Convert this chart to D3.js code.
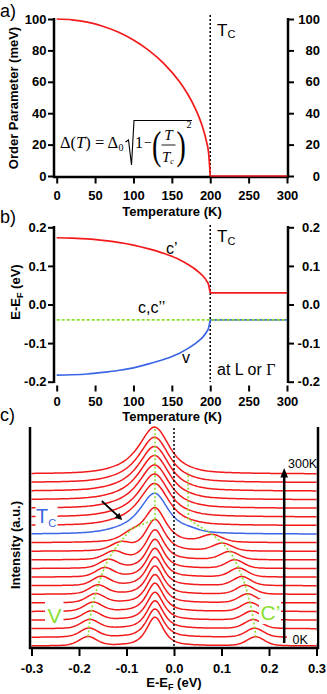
<!DOCTYPE html>
<html>
<head>
<meta charset="utf-8">
<script src="https://cdn.jsdelivr.net/npm/d3@7"></script>
<style>
  body { margin: 0; background: #fff; }
  svg { display: block; }
</style>
</head>
<body>
<script>
// ---- data ----
const Tc = 200;
const tempTicks = [0, 50, 100, 150, 200, 250, 300];
const gapTicks = [0, 20, 40, 60, 80, 100];
const bandTicks = [-0.2, -0.1, 0.0, 0.1, 0.2];
const energyTicks = [-0.3, -0.2, -0.1, 0.0, 0.1, 0.2, 0.3];

// panel a: order parameter (meV)
const gapTemp = [0, 20, 40, 60, 80, 100, 120, 140, 160, 170, 180, 185, 190, 195, 198, 200];
const gapValue = [100, 99.5, 98.0, 95.4, 91.7, 86.6, 80.0, 71.4, 60.0, 52.7, 43.6, 38.0, 31.2, 22.2, 14.1, 0];
const normalTemp = [200, 300];
const normalGap = [0, 0];

// panel b: band energies (eV)
const bandTemp = [0, 20, 40, 60, 80, 100, 120, 140, 160, 170, 180, 185, 190, 195, 198, 200];
const cPrimeBand = [0.173, 0.172, 0.170, 0.166, 0.161, 0.154, 0.144, 0.132, 0.116, 0.105, 0.092, 0.084, 0.075, 0.062, 0.050, 0.030];
const vBand = [-0.183, -0.182, -0.180, -0.176, -0.171, -0.164, -0.154, -0.142, -0.126, -0.115, -0.102, -0.094, -0.085, -0.072, -0.060, -0.040];
const cPrimeNormal = [0.03, 0.03];
const vNormal = [-0.04, -0.04];
const cBandTemp = [0, 300];
const cBand = [-0.04, -0.04];

// panel c: spectra, index 0 = 0K (bottom) ... 20 = 300K (top)
const specTemp = [0, 15, 30, 45, 60, 75, 90, 105, 120, 135, 150, 165, 180, 195, 210, 225, 240, 255, 270, 285, 300];
const tcIndex = 13;
const mainCenter = -0.04;
const mainAmp = [3.35, 3.3, 3.25, 3.25, 3.3, 3.3, 3.3, 3.35, 3.35, 3.4, 3.5, 3.7, 4.0, 4.45, 4.6, 4.7, 4.75, 4.85, 4.9, 4.97, 5.15];
const mainWidth = [0.021, 0.021, 0.021, 0.021, 0.021, 0.021, 0.021, 0.021, 0.021, 0.021, 0.022, 0.024, 0.027, 0.034, 0.035, 0.035, 0.036, 0.036, 0.036, 0.036, 0.036];
const mainShape = [0.7, 0.7, 0.7, 0.7, 0.7, 0.7, 0.7, 0.7, 0.7, 0.7, 0.7, 0.7, 0.7, 0.6, 0.6, 0.6, 0.6, 0.6, 0.6, 0.6, 0.6];
const vPeak = [-0.181, -0.179, -0.177, -0.174, -0.170, -0.165, -0.160, -0.153, -0.146, -0.138, -0.127, -0.112, -0.090, -0.09, -0.09, -0.09, -0.09, -0.09, -0.09, -0.09, -0.09];
const vAmp = [1.05, 1.05, 1.05, 1.05, 1.05, 1.05, 1.05, 1.05, 1.05, 1.0, 0.95, 0.9, 0.85, 0.6, 0.6, 0.6, 0.6, 0.6, 0.6, 0.6, 0.6];
const vWidth = [0.022, 0.022, 0.022, 0.022, 0.022, 0.022, 0.022, 0.022, 0.022, 0.022, 0.023, 0.024, 0.025, 0.05, 0.05, 0.05, 0.05, 0.05, 0.05, 0.05, 0.05];
const cPeak = [0.172, 0.170, 0.167, 0.164, 0.160, 0.155, 0.150, 0.143, 0.136, 0.128, 0.117, 0.102, 0.080, 0.03, 0.03, 0.03, 0.03, 0.03, 0.03, 0.03, 0.03];
const cAmp = [1.05, 1.05, 1.05, 1.05, 1.05, 1.05, 1.05, 1.05, 1.05, 1.0, 0.95, 0.9, 0.85, 0.35, 0.15, 0.15, 0.15, 0.15, 0.15, 0.15, 0.15];
const cWidth = [0.022, 0.022, 0.022, 0.022, 0.022, 0.022, 0.022, 0.022, 0.022, 0.022, 0.023, 0.024, 0.025, 0.025, 0.025, 0.025, 0.025, 0.025, 0.025, 0.025, 0.025];

// ---- setup ----
const FONT = "'Liberation Sans', Arial, sans-serif";
const SERIF = "'Liberation Serif', 'Times New Roman', serif";
const RED = "#f21a1a";
const BLUE = "#3b66e4";
const GREEN = "#8ae030";

const svg = d3.select("body").append("svg")
  .attr("width", 327)
  .attr("height", 694)
  .attr("font-family", FONT);

const seg = (x1, y1, x2, y2, w, dash) => {
  const l = svg.append("line")
    .attr("x1", x1).attr("y1", y1).attr("x2", x2).attr("y2", y2)
    .attr("stroke", "#000").attr("stroke-width", w);
  if (dash) l.attr("stroke-dasharray", dash);
  return l;
};

const styleAxis = (g) => {
  g.select(".domain").remove();
  g.attr("font-family", FONT).attr("font-size", 13).attr("font-weight", "bold");
  g.selectAll(".tick line").attr("stroke-width", 2);
};

const label = (x, y, txt, size, opts = {}) => {
  const t = svg.append("text")
    .attr("x", x).attr("y", y)
    .attr("font-size", size)
    .attr("fill", opts.fill || "#000")
    .attr("font-weight", opts.bold ? "bold" : "normal")
    .attr("text-anchor", opts.anchor || "start")
    .text(txt);
  if (opts.family) t.attr("font-family", opts.family);
  if (opts.rotate) t.attr("transform", "rotate(-90," + x + "," + y + ")");
  return t;
};

// T with small C
const tcLabel = (x, y, bigSize, smallSize, drop, fill) => {
  const t = svg.append("text").attr("x", x).attr("y", y).attr("fill", fill || "#000");
  t.append("tspan").attr("font-size", bigSize).text("T");
  t.append("tspan").attr("font-size", smallSize).attr("dy", drop).text("C");
};

// ============ Panel a ============
const xA = d3.scaleLinear().domain([0, 300]).range([56.7, 287]);
const yA = d3.scaleLinear().domain([0, 100]).range([176, 19]);

seg(54, 18, 54, 177.5, 2.5);
seg(288, 18, 288, 177.5, 2.5);
seg(53, 177, 289, 177, 2.5);

svg.append("g").attr("transform", "translate(54,0)")
  .call(d3.axisLeft(yA).tickValues(gapTicks).tickSize(6).tickPadding(1.5))
  .call(styleAxis);
svg.append("g").attr("transform", "translate(288,0)")
  .call(d3.axisRight(yA).tickValues(gapTicks).tickSize(6))
  .call(styleAxis)
  .call((g) => g.selectAll("text").attr("text-anchor", "end").attr("x", 32));
svg.append("g").attr("transform", "translate(0,177)")
  .call(d3.axisBottom(xA).tickValues(tempTicks).tickSize(6.5).tickPadding(7.5))
  .call(styleAxis);

seg(xA(Tc), 15, xA(Tc), 176, 1.5, "2,2");

const lineA = d3.line().x((d) => xA(d[0])).y((d) => yA(d[1]));
svg.append("path")
  .attr("d", lineA.curve(d3.curveMonotoneX)(gapTemp.map((t, i) => [t, gapValue[i]])))
  .attr("fill", "none").attr("stroke", RED).attr("stroke-width", 1.7);
svg.append("path")
  .attr("d", d3.line().x((d) => xA(d[0])).y((d) => yA(d[1]))(normalTemp.map((t, i) => [t, normalGap[i]])))
  .attr("fill", "none").attr("stroke", RED).attr("stroke-width", 1.7);

label(0, 17, "a)", 18);
label(18, 98, "Order Parameter (meV)", 13, { bold: true, anchor: "middle", rotate: true });
label(172, 215.5, "Temperature (K)", 13, { bold: true, anchor: "middle" });
tcLabel(217, 35.5, 17, 11, 2.5);

// formula
const f = svg.append("g").attr("font-family", SERIF).attr("fill", "#000");
const fText = f.append("text").attr("x", 60).attr("y", 147.5).attr("font-size", 16.5);
fText.append("tspan").text("\u0394(");
fText.append("tspan").attr("font-style", "italic").text("T");
fText.append("tspan").text(") = \u0394");
f.append("text").attr("x", 118.5).attr("y", 150.5).attr("font-size", 10).text("0");
f.append("path").attr("d", "M125.5,142 L128.5,140 L131.5,165 L134,120.5 L192,120.5")
  .attr("fill", "none").attr("stroke", "#000").attr("stroke-width", 1.1);
f.append("text").attr("x", 135).attr("y", 147.5).attr("font-size", 16).text("1");
f.append("text").attr("x", 144).attr("y", 147).attr("font-size", 14).text("\u2212");
f.append("text").attr("font-size", 28)
  .attr("transform", "translate(152,159) scale(1,1.45)").text("(");
f.append("text").attr("x", 168.5).attr("y", 140).attr("font-size", 15)
  .attr("font-style", "italic").attr("text-anchor", "middle").text("T");
f.append("line").attr("x1", 161.5).attr("x2", 175.5).attr("y1", 145).attr("y2", 145)
  .attr("stroke", "#000").attr("stroke-width", 0.9);
const tcF = f.append("text").attr("x", 162).attr("y", 162).attr("font-size", 15).attr("font-style", "italic");
tcF.append("tspan").text("T");
tcF.append("tspan").attr("font-size", 8).attr("dy", 2).text("c");
f.append("text").attr("font-size", 28)
  .attr("transform", "translate(176.5,159) scale(1,1.45)").text(")");
f.append("text").attr("x", 186.5).attr("y", 128).attr("font-size", 10).text("2");

// ============ Panel b ============
const xB = d3.scaleLinear().domain([0, 300]).range([56.7, 287]);
const yB = d3.scaleLinear().domain([-0.2, 0.2]).range([381.7, 227.3]);

seg(54, 226, 54, 383, 2.5);
seg(288, 226, 288, 383, 2.5);

svg.append("g").attr("transform", "translate(54,0)")
  .call(d3.axisLeft(yB).tickValues(bandTicks).tickSize(6).tickPadding(1.5).tickFormat((d) => d.toFixed(1)))
  .call(styleAxis);
svg.append("g").attr("transform", "translate(288,0)")
  .call(d3.axisRight(yB).tickValues(bandTicks).tickSize(6).tickFormat((d) => d.toFixed(1)))
  .call(styleAxis)
  .call((g) => g.selectAll("text").attr("text-anchor", "end").attr("x", 32));
svg.append("g").attr("transform", "translate(0,385.5)")
  .call(d3.axisBottom(xB).tickValues(tempTicks).tickSize(6).tickPadding(5))
  .call(styleAxis);

seg(xB(Tc), 225, xB(Tc), 382, 1.5, "2,2");

const lineB = d3.line().x((d) => xB(d[0])).y((d) => yB(d[1]));
const smoothB = d3.line().x((d) => xB(d[0])).y((d) => yB(d[1])).curve(d3.curveMonotoneX);
svg.append("path").attr("d", smoothB(bandTemp.map((t, i) => [t, cPrimeBand[i]])))
  .attr("fill", "none").attr("stroke", RED).attr("stroke-width", 1.7);
svg.append("path").attr("d", lineB(normalTemp.map((t, i) => [t, cPrimeNormal[i]])))
  .attr("fill", "none").attr("stroke", RED).attr("stroke-width", 1.7);
svg.append("path").attr("d", smoothB(bandTemp.map((t, i) => [t, vBand[i]])))
  .attr("fill", "none").attr("stroke", BLUE).attr("stroke-width", 1.7);
svg.append("path").attr("d", lineB(normalTemp.map((t, i) => [t, vNormal[i]])))
  .attr("fill", "none").attr("stroke", BLUE).attr("stroke-width", 1.7);
svg.append("path").attr("d", lineB(cBandTemp.map((t, i) => [t, cBand[i]])))
  .attr("fill", "none").attr("stroke", GREEN).attr("stroke-width", 1.7)
  .attr("stroke-dasharray", "3,2");

label(0, 223, "b)", 18);
const yLabB = svg.append("text").attr("font-weight", "bold").attr("font-size", 13)
  .attr("text-anchor", "middle")
  .attr("transform", "translate(19.5,292) rotate(-90)");
yLabB.append("tspan").text("E-E");
yLabB.append("tspan").attr("font-size", 9).attr("dy", 3).text("F");
yLabB.append("tspan").attr("dy", -3).text(" (eV)");
label(172, 421, "Temperature (K)", 13, { bold: true, anchor: "middle" });
tcLabel(217, 242, 17, 11, 2.5);
label(166, 254, "c\u2019", 16);
label(138, 313, "c,c\u2019\u2019", 16);
label(182, 363, "v", 16);
const atL = svg.append("text").attr("x", 217).attr("y", 375).attr("font-size", 16);
atL.append("tspan").text("at L or ");
atL.append("tspan").attr("font-family", SERIF).text("\u0393");

// ============ Panel c ============
const xC = d3.scaleLinear().domain([-0.3, 0.3]).range([31.5, 316.5]);
const yC = d3.scaleLinear().domain([0, 20]).range([646, 474]);

const pv = (e, center, hw, eta) => {
  const z = (e - center) / hw;
  return eta / (1 + z * z) + (1 - eta) * Math.exp(-Math.LN2 * z * z);
};
const spectrum = (i, e) =>
  mainAmp[i] * pv(e, mainCenter, mainWidth[i], mainShape[i]) +
  vAmp[i] * pv(e, vPeak[i], vWidth[i], 0.3) +
  cAmp[i] * pv(e, cPeak[i], cWidth[i], 0.3);

const grid = d3.range(-0.3, 0.3001, 0.003);
const lineC = d3.line().x((d) => xC(d[0])).y((d) => yC(d[1]));

const curves = svg.append("g").attr("fill", "none").attr("stroke-width", 1.5);
specTemp.forEach((t, i) => {
  if (i === tcIndex) return;
  curves.append("path")
    .attr("d", lineC(grid.map((e) => [e, i + spectrum(i, e)])))
    .attr("stroke", RED);
});
curves.append("path")
  .attr("d", lineC(grid.map((e) => [e, tcIndex + spectrum(tcIndex, e)])))
  .attr("stroke", BLUE);

// frame
seg(30, 427, 30, 649, 2.5);
seg(318, 427, 318, 649, 2.5);
seg(29, 648, 319, 648, 2.5);
svg.append("g").attr("transform", "translate(0,648)")
  .call(d3.axisBottom(xC).tickValues(energyTicks).tickSize(8).tickPadding(7.3).tickFormat((d) => d.toFixed(1)))
  .call(styleAxis);

seg(xC(0), 428, xC(0), 647, 1.5, "2,2");

// green dotted peak trajectories
const junction = [mainCenter, tcIndex + 1.75];
const lowIdx = d3.range(0, tcIndex);
const vTrack = lowIdx.map((i) => [vPeak[i], i + spectrum(i, vPeak[i])]).concat([junction]);
const cTrack = lowIdx.map((i) => [cPeak[i], i + spectrum(i, cPeak[i])])
  .concat([[cPeak[tcIndex], junction[1]], [cPeak[20], 20 + spectrum(20, cPeak[20]) - 0.8]]);
const midTrack = [junction, [mainCenter, 20 + spectrum(20, mainCenter)]];
[vTrack, cTrack, midTrack].forEach((pts) => {
  svg.append("path").attr("d", lineC(pts))
    .attr("fill", "none").attr("stroke", GREEN).attr("stroke-width", 1.6)
    .attr("stroke-dasharray", "2,2.2");
});

// label boxes (hide curves behind labels)
const box = (x, y, w, h) => svg.append("rect").attr("x", x).attr("y", y).attr("width", w).attr("height", h).attr("fill", "#fff");
box(35.5, 505, 22, 24);
box(45, 599, 18.5, 25);
box(259, 599, 22, 25);
box(287, 631, 30, 12);

tcLabel(36, 523, 20, 11, 4, BLUE);
label(47.5, 623, "V", 21, { fill: GREEN });
label(260.5, 620, "C\u2019", 21, { fill: GREEN });
label(288, 468, "300K", 12.5);
label(292.5, 643.5, "0K", 12.5);

// temperature arrow
seg(xC(0.232), 643, xC(0.232), 476, 2.5);
svg.append("path")
  .attr("d", "M" + xC(0.232) + ",468 l-3.8,9.5 l7.6,0 z")
  .attr("fill", "#000");

// Tc arrow
const ax1 = xC(-0.152), ay1 = yC(16.86), ax2 = xC(-0.109), ay2 = yC(14.65);
const ang = Math.atan2(ay2 - ay1, ax2 - ax1);
const hl = 7, hw2 = 3.5;
seg(ax1, ay1, ax2 - Math.cos(ang) * hl * 0.8, ay2 - Math.sin(ang) * hl * 0.8, 1.8);
svg.append("path")
  .attr("d", "M" + ax2 + "," + ay2 +
    " L" + (ax2 - Math.cos(ang) * hl - Math.sin(ang) * hw2) + "," + (ay2 - Math.sin(ang) * hl + Math.cos(ang) * hw2) +
    " L" + (ax2 - Math.cos(ang) * hl + Math.sin(ang) * hw2) + "," + (ay2 - Math.sin(ang) * hl - Math.cos(ang) * hw2) + " Z")
  .attr("fill", "#000");

label(0, 421, "c)", 18);
label(19.5, 545, "Intensity (a.u.)", 13, { bold: true, anchor: "middle", rotate: true });
const xLabC = svg.append("text").attr("x", 174).attr("y", 687).attr("font-weight", "bold")
  .attr("font-size", 13).attr("text-anchor", "middle");
xLabC.append("tspan").text("E-E");
xLabC.append("tspan").attr("font-size", 9).attr("dy", 3).text("F");
xLabC.append("tspan").attr("dy", -3).text(" (eV)");
</script>
</body>
</html>
